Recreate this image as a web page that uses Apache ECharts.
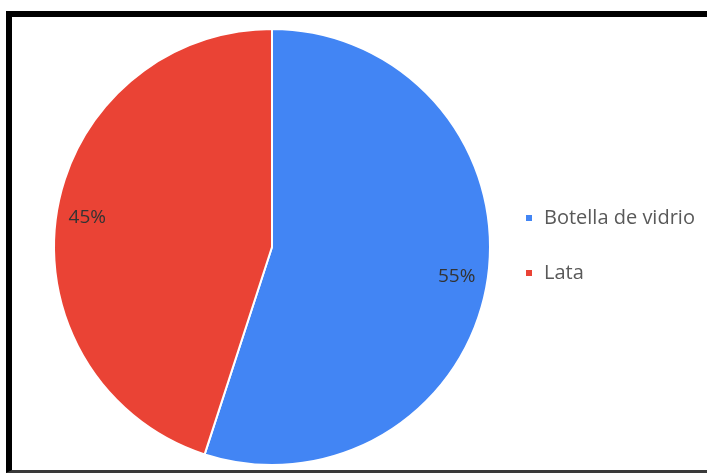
<!DOCTYPE html>
<html>
<head>
<meta charset="utf-8">
<script src="https://cdn.jsdelivr.net/npm/echarts@6/dist/echarts.min.js"></script>
<style>
  html, body { margin: 0; padding: 0; background: #fff; }
  #chart { position: absolute; left: 0; top: 0; width: 707px; height: 473px; }
  #frame {
    position: absolute; left: 6px; top: 11px; width: 720px; height: 453px;
    border-left: 6px solid #000; border-top: 6px solid #000; border-bottom: 3px solid #3a3a3a;
    pointer-events: none;
  }
</style>
</head>
<body>
<div id="chart"></div>
<div id="frame"></div>
<script>
// Envase preferido: share of each container type (percent)
const categories = ['Botella de vidrio', 'Lata'];
const shares = [55, 45];
const colors = ['#4285F4', '#EA4335'];

const data = categories.map((name, i) => ({ name, value: shares[i], itemStyle: { color: colors[i] } }));

const chart = echarts.init(document.getElementById('chart'), null, { renderer: 'canvas' });
const center = [272, 247];
const outer = 218;

chart.setOption({
  animation: false,
  backgroundColor: '#fff',
  legend: {
    orient: 'vertical',
    left: 524,
    top: 208,
    padding: 0,
    icon: 'rect',
    itemWidth: 8,
    itemHeight: 8,
    itemGap: 35,
    data: categories,
    textStyle: { fontFamily: 'Open Sans', fontSize: 20, lineHeight: 20, color: '#595959', padding: [0, 0, 0, 6] }
  },
  series: [
    {
      type: 'pie',
      center: center,
      radius: [0, outer],
      startAngle: 90,
      clockwise: true,
      data: data,
      itemStyle: { borderColor: '#fff', borderWidth: 2 },
      label: { show: false },
      labelLine: { show: false },
      silent: true
    },
    {
      // transparent ring that places the percentage labels near the rim
      type: 'pie',
      center: center,
      radius: [150, outer],
      startAngle: 90,
      clockwise: true,
      data: data.map(d => ({ name: d.name, value: d.value })),
      itemStyle: { color: 'rgba(0,0,0,0)' },
      label: {
        show: true,
        position: 'inside',
        formatter: p => p.value + '%',
        fontFamily: 'Open Sans',
        fontSize: 19,
        color: '#333333'
      },
      labelLine: { show: false },
      silent: true,
      legendHoverLink: false
    }
  ]
});
</script>
</body>
</html>
